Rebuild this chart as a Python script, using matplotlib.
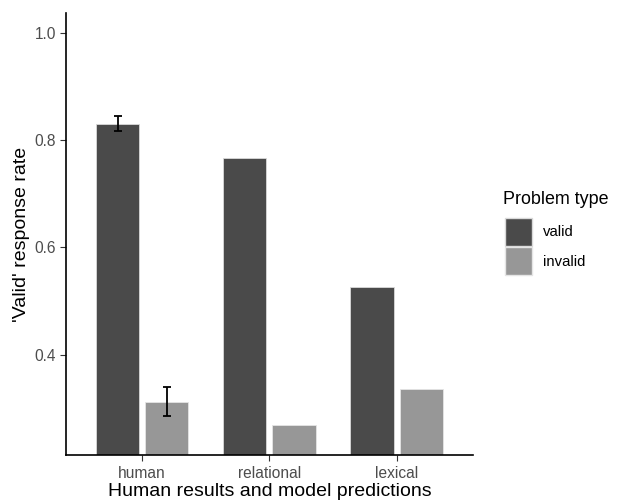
import matplotlib
matplotlib.use("Agg")
import matplotlib.pyplot as plt
import numpy as np
from matplotlib.patches import Patch

plt.rcParams['font.family'] = ['Liberation Sans', 'DejaVu Sans']

categories = ["human", "relational", "lexical"]
valid = [0.830, 0.766, 0.526]
invalid = [0.312, 0.269, 0.335]
valid_err_lo = [0.817, None, None]
valid_err_hi = [0.845, None, None]
invalid_err_lo = [0.286, None, None]
invalid_err_hi = [0.340, None, None]
yticks = [0.4, 0.6, 0.8, 1.0]

fig = plt.figure(figsize=(6.2, 5.0), dpi=100)
ax = fig.add_axes([0.106, 0.09, 0.657, 0.884])

x = np.arange(1, len(categories) + 1)
w = 0.34
off = 0.193
c_valid = "#4a4a4a"
c_invalid = "#979797"
ax.bar(x - off, valid, w, bottom=0, color=c_valid, edgecolor="#d9d9d9", linewidth=0.6, zorder=2)
ax.bar(x + off, invalid, w, bottom=0, color=c_invalid, edgecolor="#e5e5e5", linewidth=0.6, zorder=2)

for i in range(len(categories)):
    if valid_err_lo[i] is not None:
        ax.errorbar(x[i] - off, (valid_err_lo[i] + valid_err_hi[i]) / 2,
                    yerr=(valid_err_hi[i] - valid_err_lo[i]) / 2, color="black",
                    capsize=3, elinewidth=1.3, capthick=1.3, zorder=3)
    if invalid_err_lo[i] is not None:
        ax.errorbar(x[i] + off, (invalid_err_lo[i] + invalid_err_hi[i]) / 2,
                    yerr=(invalid_err_hi[i] - invalid_err_lo[i]) / 2, color="black",
                    capsize=3, elinewidth=1.3, capthick=1.3, zorder=3)

ax.set_xlim(0.4, 3.6)
ax.set_ylim(0.2125, 1.0375)
ax.set_xticks(x)
ax.set_xticklabels(categories)
ax.set_yticks(yticks)
ax.set_yticklabels([f"{t:.1f}" for t in yticks])
for s in ["top", "right"]:
    ax.spines[s].set_visible(False)
for s in ["left", "bottom"]:
    ax.spines[s].set_linewidth(1.2)
    ax.spines[s].set_color("black")
ax.tick_params(axis="both", colors="#333333", labelcolor="#4d4d4d", labelsize=11.2, length=4, width=0.8, pad=3)
ax.tick_params(axis="x", pad=4.2)
ax.set_ylabel("'Valid' response rate", fontsize=14, color="black", labelpad=3)
ax.set_xlabel("Human results and model predictions", fontsize=14, color="black", labelpad=1.2)

fig.text(503 / 620, 1 - 200 / 500, "Problem type", fontsize=12.9, ha="left", va="center")
handles = [Patch(facecolor=c_valid, edgecolor="#d9d9d9", label="valid"),
           Patch(facecolor=c_invalid, edgecolor="#e5e5e5", label="invalid")]
leg = fig.legend(handles=handles, loc="upper left",
                 bbox_to_anchor=(505 / 620, 1 - 218 / 500), frameon=False, fontsize=10.7,
                 handlelength=1.82, handleheight=2.5,
                 handletextpad=0.75, labelspacing=0.1, borderaxespad=0, borderpad=0)

fig.savefig("out.png", dpi=100)
